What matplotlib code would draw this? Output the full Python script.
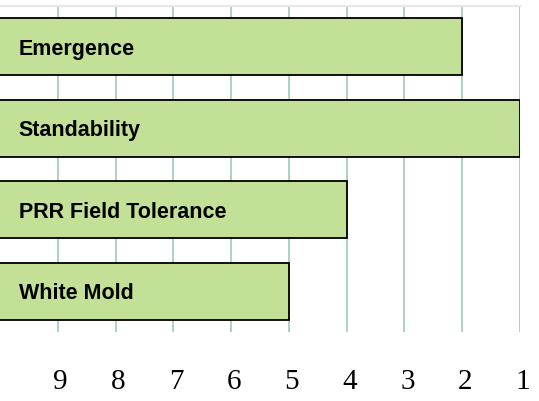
import matplotlib
matplotlib.use("Agg")
import matplotlib.pyplot as plt
import matplotlib.transforms as mtransforms

# data
traits = ["Emergence", "Standability", "PRR Field Tolerance", "White Mold"]
scores = [2, 1, 4, 5]
ticks = [9, 8, 7, 6, 5, 4, 3, 2, 1]

bar_color = "#c2e096"
grid_color = "#a6cfbb"

fig = plt.figure(figsize=(5.39, 4.02), dpi=100)
ax = fig.add_axes([0.0, 0.1716, 0.9647, 0.8110])

ypos = list(range(len(traits)))
start = 10.3  # bars run off the left edge
ax.barh(ypos, [start - s for s in scores], left=scores,
        height=0.7, color=bar_color, edgecolor="black", linewidth=1.3, zorder=3)

for y, name in zip(ypos, traits):
    ax.annotate(name, xy=(0, y), xycoords=("axes fraction", "data"),
                xytext=(13.5, -1), textcoords="offset points",
                ha="left", va="center", fontsize=15.5, fontweight="bold",
                family="Liberation Sans", zorder=4)

ax.set_xlim(10, 1)
ax.set_ylim(len(traits) - 0.5, -0.5)
ax.set_xticks(ticks)
ax.set_xticklabels([str(t) for t in ticks], family="Liberation Serif", fontsize=21)
ax.set_yticks([])
ax.tick_params(axis="x", length=0, pad=26)
ax.grid(axis="x", color=grid_color, linewidth=1.3, zorder=0)

for side in ["left", "right", "bottom"]:
    ax.spines[side].set_visible(False)
ax.spines["top"].set_color("#e3e9e6")
ax.spines["top"].set_linewidth(1.5)

# nudge tick labels slightly right like the original
offset = mtransforms.ScaledTranslation(3 / 100, 0, fig.dpi_scale_trans)
for lbl in ax.get_xticklabels():
    lbl.set_transform(lbl.get_transform() + offset)

fig.savefig("out.png", dpi=100)
